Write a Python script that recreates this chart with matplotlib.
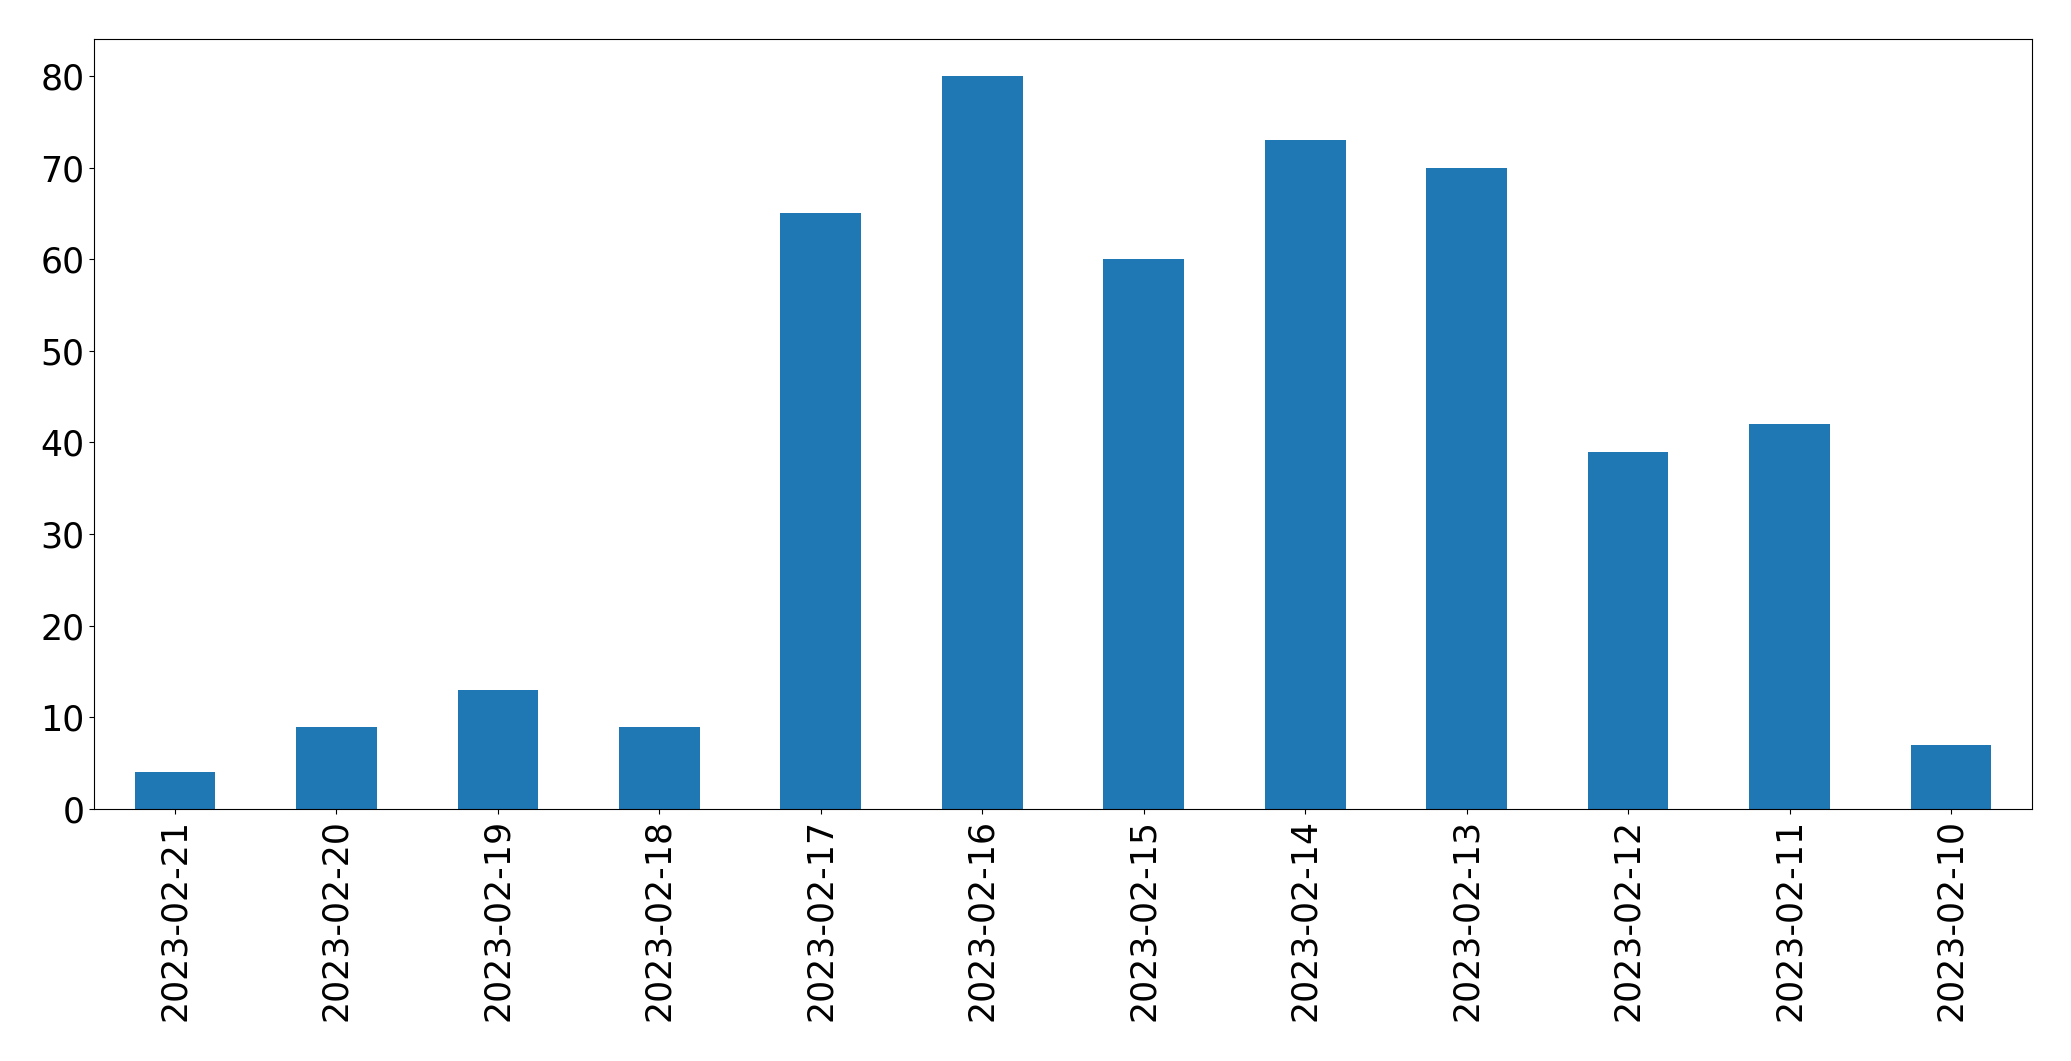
import pandas as pd
import matplotlib
matplotlib.use('Agg')
import matplotlib.pyplot as plt

dates = ['2023-02-21', '2023-02-20', '2023-02-19', '2023-02-18', '2023-02-17', '2023-02-16',
         '2023-02-15', '2023-02-14', '2023-02-13', '2023-02-12', '2023-02-11', '2023-02-10']
counts = [4, 9, 13, 9, 65, 80, 60, 73, 70, 39, 42, 7]

s = pd.Series(counts, index=dates)

fig, ax = plt.subplots(figsize=(20.71, 10.61), dpi=100)
s.plot(kind='bar', ax=ax, color='#1f77b4', fontsize=25)
ax.tick_params(axis='both', labelsize=25)

fig.subplots_adjust(left=94.3 / 2071, right=2031.7 / 2071, top=1 - 39.3 / 1061, bottom=1 - 809 / 1061)
fig.savefig('out.png', dpi=100)
